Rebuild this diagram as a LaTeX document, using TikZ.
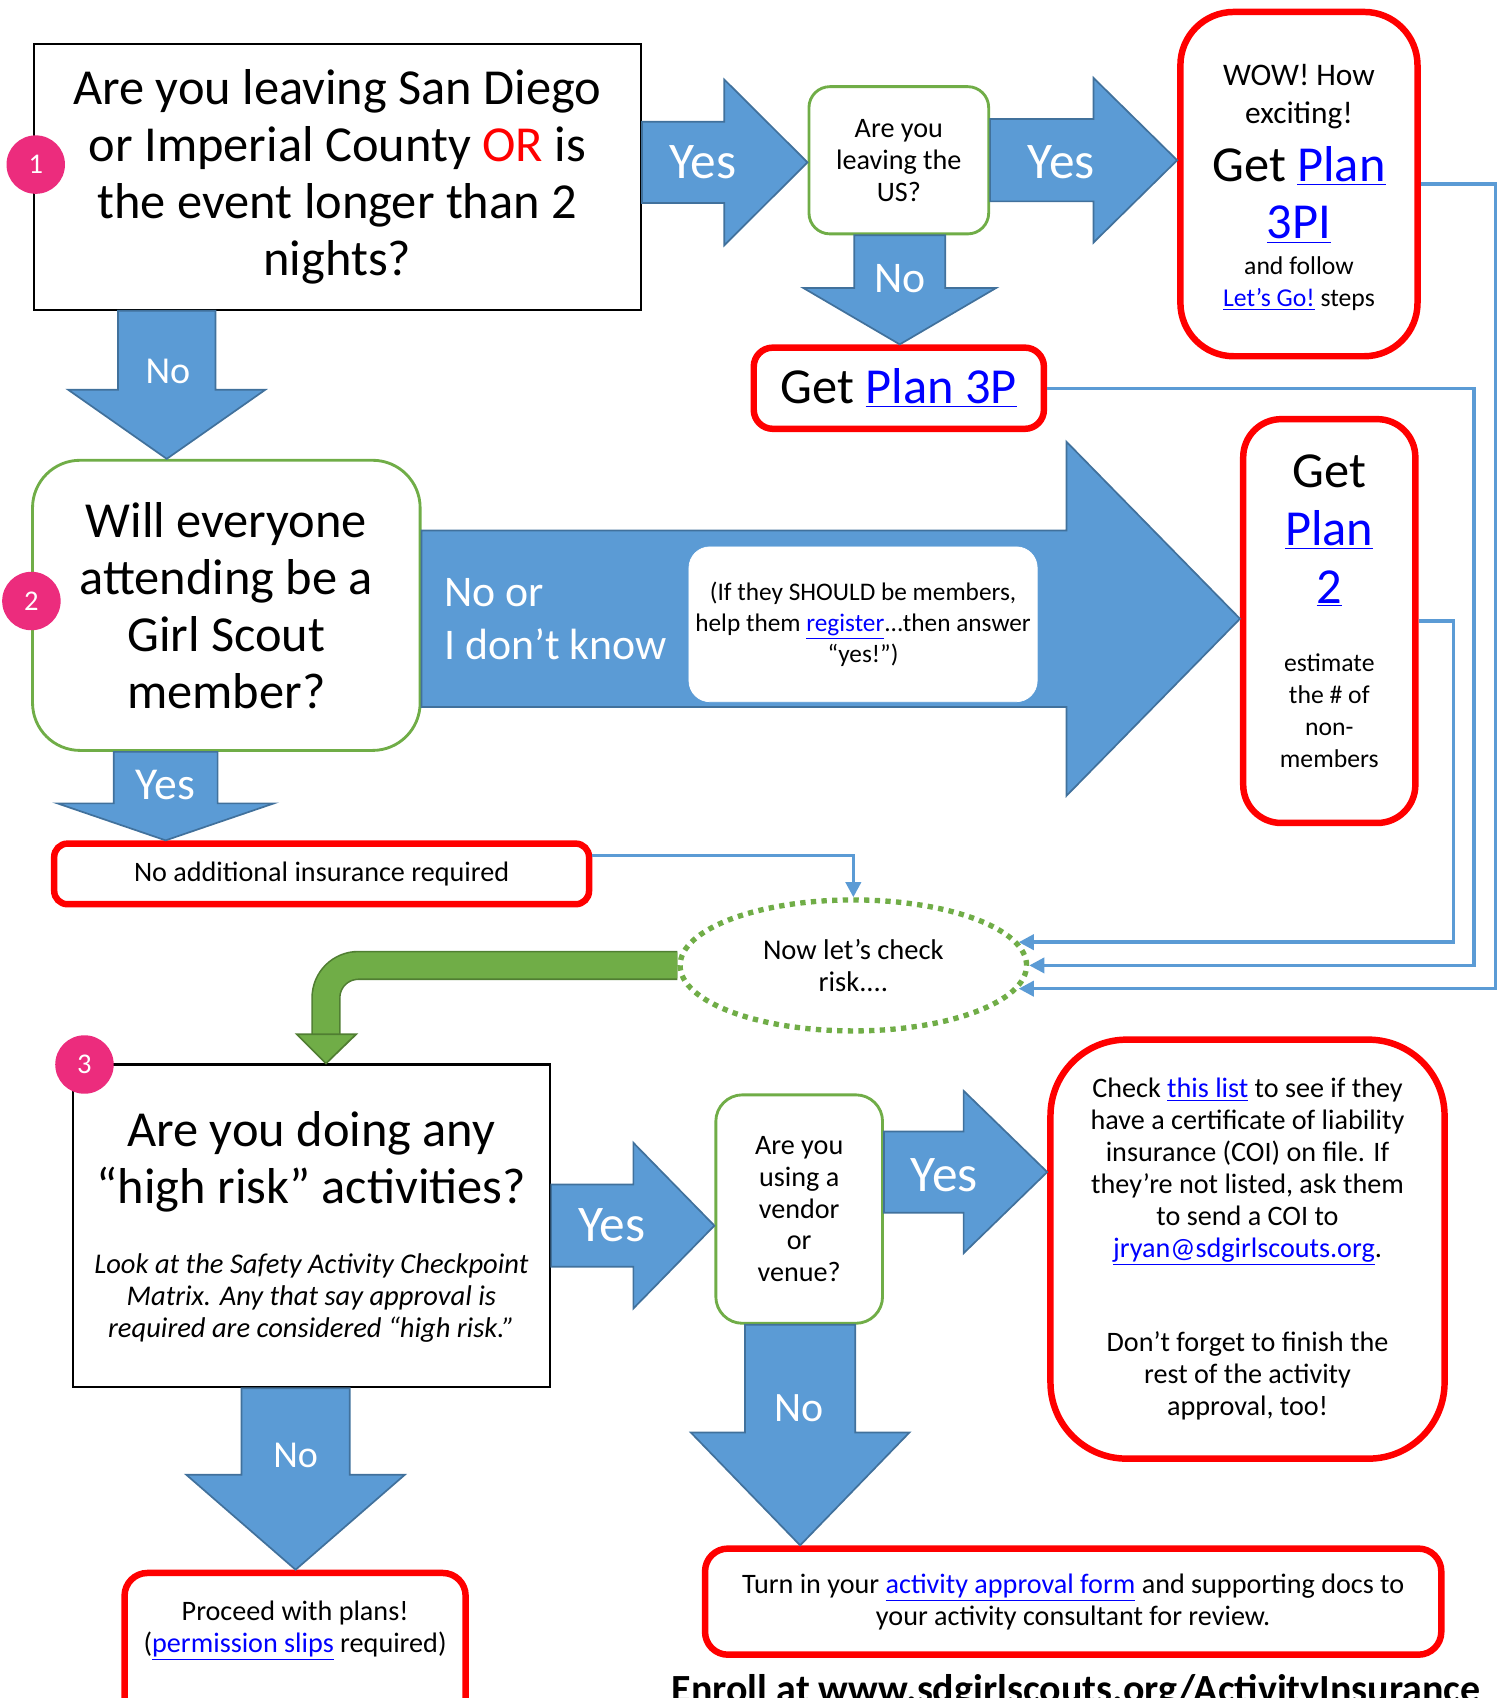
\documentclass[tikz,border=0pt]{standalone}
\usepackage{fontspec}
\setmainfont{Carlito}
\usetikzlibrary{calc,arrows.meta,shapes.geometric}

\definecolor{arrowblue}{HTML}{5B9BD5}
\definecolor{arrowedge}{HTML}{41719C}
\definecolor{askgreen}{HTML}{70AD47}
\definecolor{darkgreen}{HTML}{507E32}
\definecolor{badgepink}{HTML}{EC2C7D}
\definecolor{linkblue}{HTML}{0000FF}

\newcommand{\lnk}[1]{\textcolor{linkblue}{\underline{#1}}}
\newcommand{\bigfont}{\fontsize{26.5}{30}\selectfont}
\newcommand{\smallfont}{\fontsize{14.8}{16.8}\selectfont}
\newcommand{\notefont}{\fontsize{13.5}{16.8}\selectfont}
\newcommand{\pxu}{0.5690551pt}

% block arrows: from node, to node, centre, head base, shaft half width, head half width
\newcommand{\rightblock}[6]{%
  \draw[block arrow] let \p1=(#1.east), \p2=(#2.west) in
    (\x1,{-(#3-#5)*\pxu}) -- ({#4*\pxu},{-(#3-#5)*\pxu}) -- ({#4*\pxu},{-(#3-#6)*\pxu})
    -- (\x2,{-#3*\pxu}) -- ({#4*\pxu},{-(#3+#6)*\pxu}) -- ({#4*\pxu},{-(#3+#5)*\pxu})
    -- (\x1,{-(#3+#5)*\pxu}) -- cycle;}
\newcommand{\downblock}[6]{%
  \draw[block arrow] let \p1=(#1.south), \p2=(#2.north) in
    ({(#3-#5)*\pxu},\y1) -- ({(#3-#5)*\pxu},{-#4*\pxu}) -- ({(#3-#6)*\pxu},{-#4*\pxu})
    -- ({#3*\pxu},\y2) -- ({(#3+#6)*\pxu},{-#4*\pxu}) -- ({(#3+#5)*\pxu},{-#4*\pxu})
    -- ({(#3+#5)*\pxu},\y1) -- cycle;}

\begin{document}
\begin{tikzpicture}[x=0.02cm,y=-0.02cm,
  ask node/.style={draw,line width=1.1pt,align=center,fill=white},
  choice node/.style={draw=askgreen,line width=1.5pt,align=center,fill=white},
  plan node/.style={draw=red,line width=3.4pt,align=center,fill=white},
  step badge/.style={circle,fill=badgepink,text=white,minimum size=1.08cm,inner sep=0pt,font=\fontsize{15}{18}\selectfont},
  block arrow/.style={fill=arrowblue,draw=arrowedge,line width=0.9pt},
  arrow label/.style={text=white,font=\fontsize{27}{30}\selectfont},
  link line/.style={draw=arrowblue,line width=1.8pt,-{Triangle[length=8pt,width=8pt]}},
  risk node/.style={ellipse,draw=askgreen,line width=2.8pt,dash pattern=on 2.8pt off 2.8pt,
    minimum width=6.4cm,minimum height=2.42cm,align=center,font=\fontsize{15}{16.8}\selectfont}]
  \useasboundingbox (0,0) rectangle (1387,1568);

  % step 1
  \node[ask node,minimum width=11.22cm,minimum height=4.9cm,font=\bigfont] (q1) at (311.5,163.5)
    {Are you leaving San Diego\\or Imperial County \textcolor{red}{OR} is\\the event longer than 2\\nights?};
  \node[choice node,rounded corners=11pt,minimum width=3.32cm,minimum height=2.72cm,font=\smallfont] (qus) at (830,148)
    {Are you\\leaving the\\US?};
  \node[plan node,rounded corners=28pt,minimum width=4.38cm,minimum height=6.36cm] (wow) at (1199.5,170) {};
  \node[font=\fontsize{16.5}{20}\selectfont,align=center] (wowtext) at (1199.5,89) {WOW! How\\exciting!};
  \node[font=\bigfont,align=center] (plan3pi) at (1199.5,180) {Get \lnk{Plan}\\\lnk{3PI}};
  \node[font=\notefont,align=center] (letsgo) at (1199.5,262) {and follow\\\lnk{Let’s Go!} steps};
  \node[plan node,rounded corners=10pt,minimum width=5.36cm,minimum height=1.5cm,font=\bigfont] (plan3p) at (830,358.5)
    {Get \lnk{Plan 3P}};

  % step 2
  \node[choice node,rounded corners=25pt,minimum width=7.16cm,minimum height=5.36cm,font=\bigfont] (q2) at (209,559)
    {Will everyone\\attending be a\\Girl Scout\\member?};
  \node[plan node,rounded corners=20pt,minimum width=3.18cm,minimum height=7.46cm] (plan2) at (1227.5,573.5) {};
  \node[font=\fontsize{26.5}{30.5}\selectfont,align=center] (plan2text) at (1227.5,490) {Get\\\lnk{Plan}\\\lnk{2}};
  \node[font=\notefont,align=center] (estimate) at (1227.5,656) {estimate\\the \# of\\non-\\members};
  \node[plan node,rounded corners=7pt,minimum width=9.88cm,minimum height=1.12cm,font=\smallfont] (noins) at (297,807)
    {No additional insurance required};
  \node[risk node] (risk) at (788,891.5) {Now let’s check\\risk....};

  % step 3
  \node[ask node,minimum width=8.82cm,minimum height=5.96cm] (q3) at (287.5,1132) {};
  \node[font=\bigfont,align=center] (q3text) at (287.5,1073) {Are you doing any\\“high risk” activities?};
  \node[font=\fontsize{15}{16.8}\selectfont\itshape,align=center] (matrix) at (287.5,1199)
    {Look at the Safety Activity Checkpoint\\Matrix. Any that say approval is\\required are considered “high risk.”};
  \node[choice node,rounded corners=14pt,minimum width=3.08cm,minimum height=4.22cm,font=\smallfont] (vendor) at (738,1116.5)
    {Are you\\using a\\vendor\\or\\venue?};
  \node[plan node,rounded corners=40pt,minimum width=7.28cm,minimum height=7.74cm,font=\smallfont] (coi) at (1152,1153.5)
    {Check \lnk{this list} to see if they\\have a certificate of liability\\insurance (COI) on file. If\\they’re not listed, ask them\\to send a COI to\\\lnk{jryan@sdgirlscouts.org}.\\[33pt]Don’t forget to finish the\\rest of the activity\\approval, too!};
  \node[plan node,rounded corners=12pt,minimum width=13.6cm,minimum height=1.96cm,font=\smallfont] (turnin) at (991,1479)
    {Turn in your \lnk{activity approval form} and supporting docs to\\your activity consultant for review.};
  \node[plan node,rounded corners=12pt,minimum width=6.3cm,minimum height=2.94cm] (proceed) at (272.5,1526) {};
  \node[font=\smallfont,align=center] (proceedtext) at (272.5,1506) {Proceed with plans!\\(\lnk{permission slips} required)};
  \node[anchor=base west,inner sep=0pt,font=\fontsize{21}{24}\selectfont\bfseries] (enroll) at (620,1572)
    {Enroll at www.sdgirlscouts.org/ActivityInsurance};

  % block arrows
  \rightblock{q1}{qus}{150}{669}{37.5}{76.5}
  \rightblock{qus}{wow}{148}{1010}{38}{76}
  \downblock{qus}{plan3p}{831}{266}{42}{89}
  \downblock{q1}{q2}{154}{360}{45}{91}
  \rightblock{q2}{plan2}{571.5}{985}{81.5}{163.5}
  \downblock{q2}{noins}{153}{742}{48}{100}
  \rightblock{q3}{vendor}{1132}{585}{38}{76.5}
  \rightblock{vendor}{coi}{1082.5}{890}{37.5}{75}
  \downblock{vendor}{turnin}{739}{1323}{51}{101}
  \downblock{q3}{proceed}{273}{1362}{50}{101}

  \node[arrow label] (yes1) at (649,150) {Yes};
  \node[arrow label] (yes2) at (980,150) {Yes};
  \node[arrow label,font=\fontsize{23}{26}\selectfont] (no1) at (831,257) {No};
  \node[arrow label,font=\fontsize{20}{24}\selectfont] (no2) at (155,343) {No};
  \node[arrow label,align=left,anchor=west,font=\fontsize{23}{28}\selectfont] (unsure) at (404,572) {No or\\I don’t know};
  \node[draw=white,fill=white,rounded corners=11pt,minimum width=6.32cm,minimum height=2.86cm,align=center,
    font=\fontsize{13.3}{16.5}\selectfont] (register) at (797,576.5)
    {(If they SHOULD be members,\\help them \lnk{register}...then answer\\“yes!”)};
  \node[arrow label,font=\fontsize{24}{26}\selectfont] (yes3) at (153,725) {Yes};
  \node[arrow label] (yes4) at (565,1131) {Yes};
  \node[arrow label] (yes5) at (872,1085) {Yes};
  \node[arrow label,font=\fontsize{22}{24}\selectfont] (no3) at (738,1300) {No};
  \node[arrow label,font=\fontsize{20}{24}\selectfont] (no4) at (273,1344) {No};

  % lines into the risk check
  \draw[link line] ([yshift=9.7pt]noins.east) -| (risk.north);
  \draw[link line] (plan2.east) -- ++(32,0) |- (risk.8);
  \draw[link line] (plan3p.east) -- ++(394,0) |- (risk.east);
  \draw[link line] (wow.east) -- ++(69,0) |- (risk.-8);

  % green bent arrow
  \coordinate (bendbase) at (301,955);
  \draw[line width=15.4pt,darkgreen,rounded corners=17pt] (risk.west) -| (bendbase);
  \draw[line width=13.7pt,askgreen,rounded corners=17pt] (risk.west) -| (bendbase);
  \draw[fill=askgreen,draw=darkgreen,line width=0.9pt]
    ([xshift=-15.4pt]bendbase) -- ([xshift=15.9pt]bendbase) -- (bendbase |- q3.north) -- cycle;

  % step badges
  \node[step badge] (badge1) at (33,152) {1};
  \node[step badge] (badge2) at (29,555) {2};
  \node[step badge] (badge3) at (78,983) {3};
\end{tikzpicture}
\end{document}
